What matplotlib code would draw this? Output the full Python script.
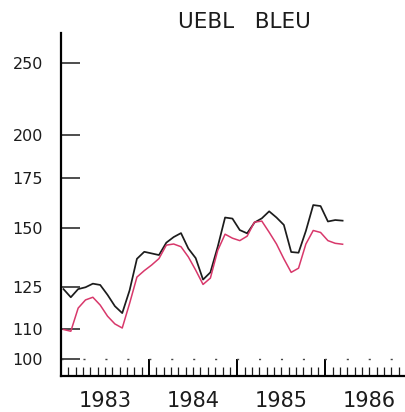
import numpy as np
import matplotlib.pyplot as plt
from matplotlib.ticker import FixedLocator, FuncFormatter, NullFormatter

# monthly values, Jan 1983 - Mar 1986
uebl_noir = [124.3, 121.2, 124.3, 125.0, 126.4, 125.9, 122.1, 117.9, 115.4, 123.8,
             136.5, 139.5, 138.8, 138.1, 143.5, 146.0, 147.8, 140.9, 136.8, 128.0,
             130.9, 141.7, 155.1, 154.6, 149.2, 147.7, 152.7, 154.7, 158.1, 155.1,
             151.6, 139.4, 139.1, 148.8, 161.2, 160.7, 153.2, 153.9, 153.6]
uebl_rouge = [109.7, 109.1, 117.2, 120.2, 121.2, 118.3, 114.3, 111.6, 110.2, 118.9,
              129.0, 131.6, 133.9, 136.6, 142.4, 142.9, 141.7, 137.3, 131.8, 126.1,
              128.6, 140.1, 147.3, 145.5, 144.4, 146.4, 152.9, 153.4, 148.2, 142.9,
              136.5, 130.9, 132.6, 142.9, 149.0, 148.1, 144.4, 143.2, 142.8]
annees = [1983, 1984, 1985, 1986]
yticks = [100, 110, 125, 150, 175, 200, 250]

t = 1983 + (np.arange(len(uebl_noir)) + 0.35) / 12

fig = plt.figure(figsize=(4.06, 4.12), dpi=100)
ax = fig.add_axes([0.150, 0.0874, 0.85, 0.8326])

ax.plot(t, uebl_noir, color='#1c1c1c', lw=1.25)
ax.plot(t, uebl_rouge, color='#d8386b', lw=1.1)
ax.axhline(100, color='#444444', lw=1.0, dashes=[1.5, 14.3])

ax.set_yscale('log')
ax.set_ylim(95.0, 274.5)
ax.set_xlim(1983.0, 1986.915)

ax.yaxis.set_major_locator(FixedLocator(yticks))
ax.yaxis.set_major_formatter(FuncFormatter(lambda v, p: '%d' % v))
ax.yaxis.set_minor_locator(FixedLocator([]))
ax.yaxis.set_minor_formatter(NullFormatter())
ax.tick_params(axis='y', which='major', direction='in', length=13.5, width=1.1,
               pad=13, labelsize=11.5, colors='#1c1c1c')

# year ticks at boundaries, month ticks, year labels at mid-year
ax.xaxis.set_major_locator(FixedLocator(annees + [1987]))
ax.xaxis.set_major_formatter(NullFormatter())
mois = [a + m / 12 for a in annees for m in range(1, 12)]
ax.xaxis.set_minor_locator(FixedLocator(mois))
ax.xaxis.set_minor_formatter(FuncFormatter(
    lambda v, p: '%d' % int(v) if abs(v - int(v) - 0.5) < 0.01 else ''))
ax.tick_params(axis='x', which='major', direction='in', length=12.5, width=1.4)
ax.tick_params(axis='x', which='minor', direction='in', length=6.5, width=0.9,
               pad=11, labelsize=15, colors='#1c1c1c')

for s in ['top', 'right']:
    ax.spines[s].set_visible(False)
ax.spines['left'].set_linewidth(1.6)
ax.spines['bottom'].set_linewidth(1.6)

fig.text(0.603, 0.947, 'UEBL   BLEU', ha='center', va='center', fontsize=15.5,
         color='#1c1c1c')

fig.savefig('out.png', dpi=100)
